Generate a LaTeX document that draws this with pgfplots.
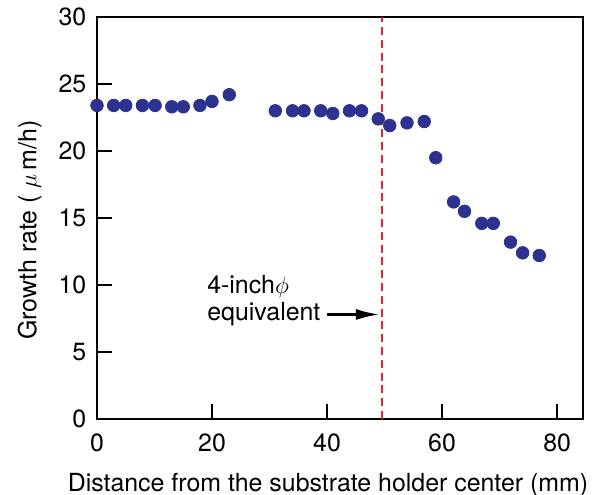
\documentclass[border=0pt]{standalone}
\usepackage{fontspec}
\setmainfont{TeX Gyre Heros}
\usepackage{pgfplots}
\pgfplotsset{compat=1.18}
\usetikzlibrary{arrows.meta}
\definecolor{dotblue}{RGB}{45,50,145}
\definecolor{linered}{RGB}{230,35,45}
\begin{document}
\fontsize{12.5}{15}\selectfont
\begin{tikzpicture}
\begin{axis}[
  name=ax,
  scale only axis,
  width=243bp, height=201bp,
  xmin=0, xmax=84.5, ymin=0, ymax=30,
  xtick={0,20,...,80}, ytick={0,5,...,30},
  axis line style={line width=1bp},
  tick style={line width=1bp, black},
  tick align=inside,
  xtick pos=bottom, ytick pos=left,
  major tick length=7.5bp,
  tick label style={font=\fontsize{12.5}{15}\selectfont},
  label style={font=\fontsize{12.5}{15}\selectfont},
  /pgf/number format/assume math mode=true,
  xticklabel style={yshift=-3bp},
  yticklabel style={xshift=-1bp},
  xlabel={Distance from the substrate holder center (mm)},
  ylabel={Growth rate ( $\mu$\,m/h)},
  xlabel style={yshift=-2.5bp, xshift=-6bp},
  ylabel style={yshift=0bp, xshift=-6bp},
  clip=false,
]
\addplot[only marks, mark=*, mark size=3.15pt,
  mark options={draw=dotblue, fill=dotblue}] coordinates {
  (0,23.4) (2.9,23.4) (5.0,23.4) (7.9,23.4) (10.1,23.4)
  (13.0,23.3) (15.0,23.3) (17.9,23.4) (20.0,23.7) (23.0,24.2)
  (31.0,23.0) (34.0,23.0) (36.0,23.0) (38.9,23.0) (41.0,22.8)
  (43.9,23.0) (46.0,23.0) (48.9,22.4) (50.9,21.9) (53.9,22.1)
  (56.9,22.2) (58.9,19.5) (62.0,16.2) (63.9,15.5) (66.9,14.6)
  (68.9,14.6) (71.9,13.2) (74.0,12.4) (76.9,12.2)
};
\addplot[linered, line width=1bp, dash pattern=on 4bp off 2.4bp] coordinates {(49.5,0) (49.5,30)};
\addplot[black, line width=1.4bp, -{Latex[length=12bp,width=5.5bp]}, shorten >=0.6bp] coordinates {(40.0,7.8) (49.4,7.8)};
\node[anchor=west, inner sep=0pt] at (axis cs:19.1,9.85) {4-inch$\phi$};
\node[anchor=west, inner sep=0pt] at (axis cs:19.1,7.8) {equivalent};
\end{axis}
\pgfresetboundingbox
\path ([shift={(-48.5bp,-38bp)}]ax.south west) rectangle ([shift={(5.5bp,8.5bp)}]ax.north east);
\end{tikzpicture}
\end{document}
